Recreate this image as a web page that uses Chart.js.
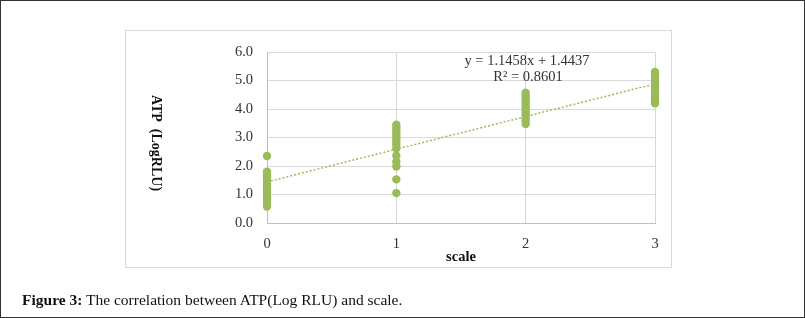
<!DOCTYPE html>
<html>
<head>
<meta charset="utf-8">
<script src="https://cdn.jsdelivr.net/npm/chart.js@4/dist/chart.umd.min.js"></script>
<style>
  html, body { margin: 0; padding: 0; background: #fff; }
  #frame { position: absolute; left: 0; top: 0; width: 803px; height: 316px; border: 1px solid #333; }
  #box { position: absolute; left: 125px; top: 30px; width: 545px; height: 236px; border: 1px solid #d9d9d9; }
  #wrap { position: absolute; left: 0; top: 0; width: 805px; height: 318px; }
  #caption { position: absolute; left: 22px; top: 291px; font: 15.5px "Liberation Serif", serif; color: #111; white-space: nowrap; }
  #caption b { font-weight: bold; }
</style>
</head>
<body>
<div id="frame"></div>
<div id="box"></div>
<div id="wrap"><canvas id="c" width="805" height="318"></canvas></div>
<div id="caption"><b>Figure 3:</b> The correlation between ATP(Log RLU) and scale.</div>
<script>
// ATP readings (Log RLU) per scale level
const atpScale0 = [2.35, 1.8, 1.7, 1.6, 1.5, 1.35, 1.25, 1.15, 1.05, 0.95, 0.85, 0.72, 0.58]
const atpScale1 = [3.45, 3.35, 3.25, 3.15, 3.05, 2.95, 2.85, 2.75, 2.62, 2.36, 2.15, 1.98, 1.53, 1.05]
const atpScale2 = [4.57, 4.48, 4.38, 4.28, 4.18, 4.08, 3.98, 3.88, 3.78, 3.68, 3.58, 3.47]
const atpScale3 = [5.3, 5.2, 5.1, 5.0, 4.9, 4.8, 4.7, 4.6, 4.5, 4.4, 4.3, 4.2]
const scaleLevels = [0, 1, 2, 3]

// linear trend line end points
const trendX = [0, 3]
const trendY = [1.4437, 4.8811]
const trendText = ["y = 1.1458x + 1.4437", "R² = 0.8601"]

const yTicks = [0, 1, 2, 3, 4, 5, 6]

const GREEN = '#9bbb59'
const SERIF = '"Liberation Serif", "DejaVu Serif", serif'

const groups = [atpScale0, atpScale1, atpScale2, atpScale3]
const points = []
groups.forEach((vals, i) => vals.forEach(v => points.push({ x: scaleLevels[i], y: v })))
const trend = trendX.map((x, i) => ({ x, y: trendY[i] }))

const extras = {
  id: 'extras',
  afterDraw(chart) {
    const ctx = chart.ctx
    ctx.save()
    // y axis title, reads top to bottom
    ctx.translate(156, 143)
    ctx.rotate(Math.PI / 2)
    ctx.font = 'bold 14px ' + SERIF
    ctx.fillStyle = '#111'
    ctx.textAlign = 'center'
    ctx.textBaseline = 'middle'
    ctx.fillText('ATP  (LogRLU)', 0, 0)
    ctx.restore()

    ctx.save()
    ctx.font = '14.5px ' + SERIF
    ctx.fillStyle = '#333'
    ctx.textAlign = 'center'
    ctx.textBaseline = 'middle'
    ctx.fillText(trendText[0], 527, 61)
    ctx.fillText(trendText[1], 528, 77)
    ctx.restore()
  }
}

new Chart(document.getElementById('c'), {
  type: 'scatter',
  data: {
    datasets: [
      {
        type: 'line',
        data: trend,
        borderColor: GREEN,
        borderWidth: 1.5,
        borderDash: [2, 2],
        pointRadius: 0,
        fill: false,
        clip: false,
      },
      {
        data: points,
        backgroundColor: GREEN,
        borderWidth: 0,
        pointRadius: 4.2,
        clip: false,
      },
    ],
  },
  options: {
    responsive: false,
    animation: false,
    layout: { padding: { left: 125, top: 52, right: 150, bottom: 52 } },
    plugins: { legend: { display: false }, tooltip: { enabled: false } },
    scales: {
      x: {
        type: 'linear',
        min: 0, max: 3,
        afterFit: s => { s.height = 43 },
        grid: { color: '#d9d9d9', drawTicks: false },
        border: { color: '#bfbfbf' },
        ticks: { stepSize: 1, padding: 12, color: '#333', font: { family: SERIF, size: 14.5 } },
        title: { display: true, text: 'scale', color: '#111', padding: { top: 0, bottom: 0 }, font: { family: SERIF, size: 14.5, weight: 'bold' } },
      },
      y: {
        min: 0, max: 6,
        afterFit: s => { s.width = 142 },
        afterBuildTicks: s => { s.ticks = yTicks.map(v => ({ value: v })) },
        grid: { color: '#d9d9d9', drawTicks: false },
        border: { color: '#bfbfbf' },
        ticks: { padding: 14, color: '#333', font: { family: SERIF, size: 14.5 }, callback: v => v.toFixed(1) },
      },
    },
  },
  plugins: [extras],
})
</script>
</body>
</html>
